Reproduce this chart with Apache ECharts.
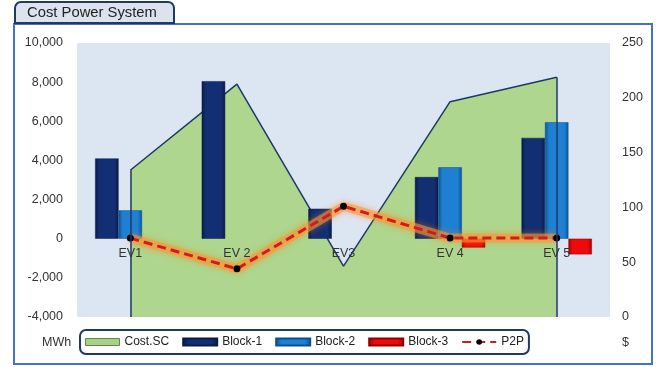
<!DOCTYPE html>
<html>
<head>
<meta charset="utf-8">
<script src="https://cdn.jsdelivr.net/npm/echarts@6/dist/echarts.min.js"></script>
<style>
    html, body {margin: 0; padding: 0; background: #fff;}
    #main {width: 656px; height: 367px;}
</style>
</head>
<body>
<div id="main"></div>
<script>
var categories = ['EV1', 'EV 2', 'EV3', 'EV 4', 'EV 5'];
var costSC = [3500, 7900, -1400, 7000, 8250];
var block1 = [4100, 8050, 1530, 3150, 5150];
var block2 = [1450, null, null, 3650, 5950];
var block3 = [null, null, null, -450, -800];
var p2p = [72, 44, 101, 72, 72];
var leftTicks = {min: -4000, max: 10000, step: 2000};
var rightTicks = {min: 0, max: 250, step: 50};

var fontFam = '"Liberation Sans", Arial, sans-serif';

// 千位分隔
function fmt(v) {
    var s = String(Math.abs(v)).replace(/\B(?=(\d{3})+(?!\d))/g, ',');
    return v < 0 ? '-' + s : s;
}

// 斜面效果的柱子颜色
function bevel(edge, mid) {
    return {
        type: 'linear', x: 0, y: 0, x2: 1, y2: 0,
        colorStops: [
            {offset: 0, color: edge},
            {offset: 0.18, color: mid},
            {offset: 0.82, color: mid},
            {offset: 1, color: edge}
        ]
    };
}

var gridTop = 43, gridBottom = 50, chartH = 367;
// x轴放在左轴0值的位置（onZero 在双y轴时不生效，用 offset）
var plotH = chartH - gridTop - gridBottom;
var zeroOffset = -plotH * (0 - leftTicks.min) / (leftTicks.max - leftTicks.min);

var myChart = echarts.init(document.getElementById('main'));
var option = {
    animation: false,
    textStyle: {fontFamily: fontFam},
    title: {
        text: 'Cost Power System',
        left: 15,
        top: 2,
        z: 10,
        backgroundColor: '#dde3ec',
        borderColor: '#1f3864',
        borderWidth: 2,
        borderRadius: [6, 6, 0, 0],
        padding: [3, 17, 3, 12],
        textStyle: {fontSize: 14.8, fontWeight: 'normal', color: '#222', fontFamily: fontFam}
    },
    graphic: [
        {
            type: 'rect', z: 0, silent: true,
            shape: {x: 14, y: 24, width: 638, height: 340},
            style: {fill: 'none', stroke: '#4472c4', lineWidth: 2}
        },
        {
            type: 'text', left: 42, top: 336,
            style: {text: 'MWh', fontSize: 12.5, fill: '#333', fontFamily: fontFam}
        },
        {
            type: 'text', left: 622, top: 336,
            style: {text: '$', fontSize: 12.5, fill: '#333', fontFamily: fontFam}
        }
    ],
    legend: {
        left: 80,
        top: 330,
        padding: [6, 5, 6, 5],
        borderColor: '#1f3864',
        borderWidth: 2,
        borderRadius: 6,
        itemWidth: 34,
        itemHeight: 7,
        itemGap: 13,
        textStyle: {fontSize: 12, color: '#222', fontFamily: fontFam},
        data: [
            {name: 'Cost.SC', icon: 'rect', itemStyle: {color: '#a9d18e', borderColor: '#5e8a44', borderWidth: 1}},
            {name: 'Block-1', icon: 'rect'},
            {name: 'Block-2', icon: 'rect'},
            {name: 'Block-3', icon: 'rect'},
            {name: 'P2P'}
        ]
    },
    grid: {
        left: 77,
        right: 46,
        top: gridTop,
        bottom: gridBottom,
        show: true,
        backgroundColor: '#dce6f2',
        borderWidth: 0
    },
    xAxis: {
        type: 'category',
        data: categories,
        boundaryGap: true,
        offset: zeroOffset,
        z: 10,
        axisLine: {show: false, onZero: false},
        axisTick: {show: false},
        axisLabel: {margin: 8, fontSize: 12.5, color: '#333'},
        splitLine: {show: false}
    },
    yAxis: [
        {
            type: 'value',
            min: leftTicks.min,
            max: leftTicks.max,
            interval: leftTicks.step,
            axisLine: {show: false},
            axisTick: {show: false},
            splitLine: {show: false},
            axisLabel: {margin: 14, fontSize: 12.5, color: '#333', formatter: fmt}
        },
        {
            type: 'value',
            min: rightTicks.min,
            max: rightTicks.max,
            interval: rightTicks.step,
            axisLine: {show: false},
            axisTick: {show: false},
            splitLine: {show: false},
            axisLabel: {margin: 12, fontSize: 12.5, color: '#333'}
        }
    ],
    series: [
        {
            name: 'Cost.SC',
            type: 'line',
            data: costSC,
            symbol: 'none',
            z: 1,
            lineStyle: {color: '#1f3864', width: 1.5},
            itemStyle: {color: '#a9d18e'},
            areaStyle: {origin: 'start', color: '#aed68e', opacity: 1},
            // 面积图两侧的竖边
            markLine: {
                silent: true,
                symbol: 'none',
                label: {show: false},
                lineStyle: {color: '#1f3864', width: 1.5, type: 'solid'},
                data: [
                    [{xAxis: 0, yAxis: costSC[0]}, {xAxis: 0, yAxis: leftTicks.min}],
                    [{xAxis: costSC.length - 1, yAxis: costSC[costSC.length - 1]}, {xAxis: costSC.length - 1, yAxis: leftTicks.min}]
                ]
            }
        },
        {
            name: 'Block-1',
            type: 'bar',
            data: block1,
            z: 2,
            barGap: '0%',
            barCategoryGap: '34%',
            itemStyle: {color: bevel('#081a48', '#132f74'), borderColor: '#0a1c46', borderWidth: 0.5}
        },
        {
            name: 'Block-2',
            type: 'bar',
            data: block2,
            z: 2,
            itemStyle: {color: bevel('#0c5496', '#1f80d3'), borderColor: '#0c4f8c', borderWidth: 0.5}
        },
        {
            name: 'Block-3',
            type: 'bar',
            data: block3,
            z: 2,
            itemStyle: {color: bevel('#a80000', '#ee0a0a'), borderColor: '#900000', borderWidth: 0.5}
        },
        {
            // P2P 线的橙色光晕
            name: 'P2P-glow',
            type: 'line',
            yAxisIndex: 1,
            data: p2p,
            z: 3,
            silent: true,
            symbol: 'none',
            lineStyle: {
                color: 'rgba(255,150,60,0.55)',
                width: 9,
                shadowColor: 'rgba(255,130,0,0.8)',
                shadowBlur: 6
            }
        },
        {
            name: 'P2P',
            type: 'line',
            yAxisIndex: 1,
            data: p2p,
            z: 4,
            symbol: 'circle',
            symbolSize: 7,
            itemStyle: {color: '#000'},
            lineStyle: {
                color: '#d21c1c',
                width: 3,
                type: [9, 5]
            }
        }
    ]
};
myChart.setOption(option, true);
</script>
</body>
</html>
